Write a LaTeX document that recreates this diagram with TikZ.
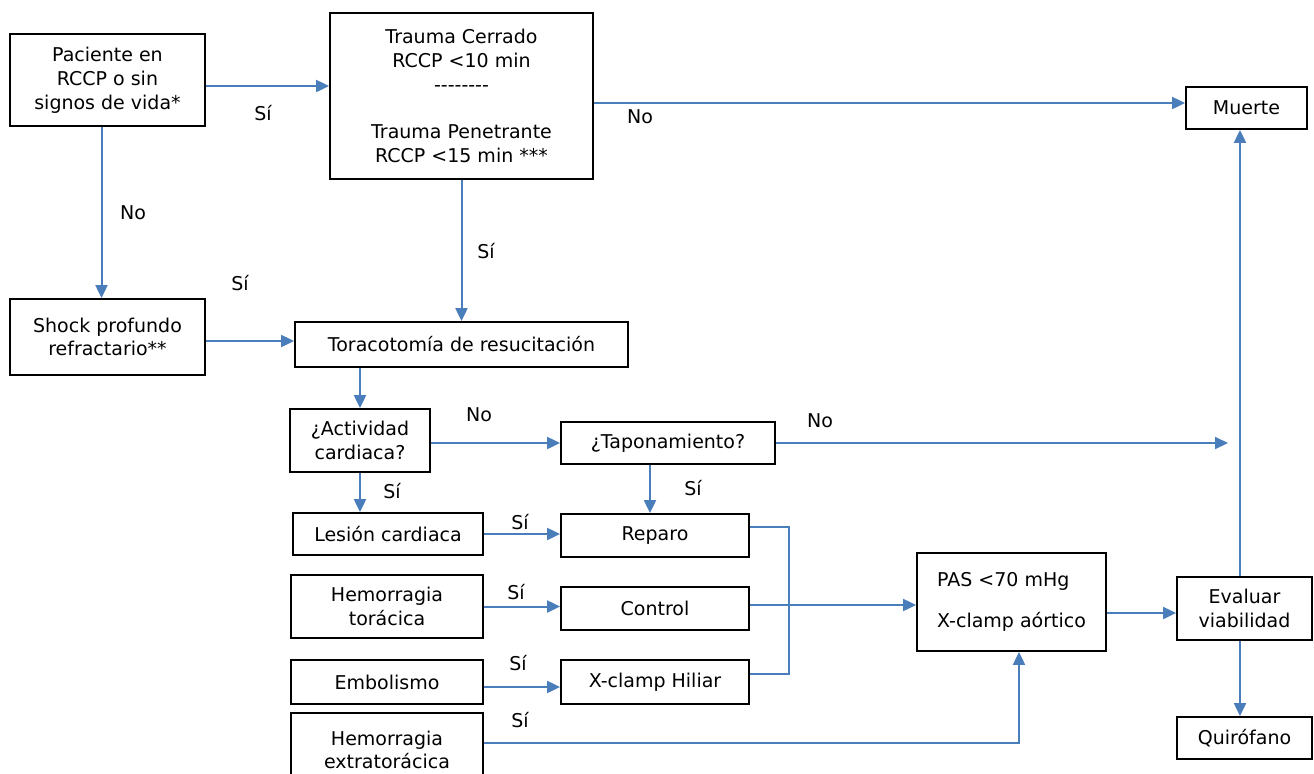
\documentclass[tikz,border=0pt]{standalone}
\usepackage{fontspec}
\setmainfont{DejaVu Sans}
\usetikzlibrary{arrows.meta}
\definecolor{linkblue}{HTML}{4A7EBB}
\newcommand{\dashrow}{-\kern0pt-\kern0pt-\kern0pt-\kern0pt-\kern0pt-\kern0pt-\kern0pt-}

\begin{document}
\begin{tikzpicture}[x=0.5pt, y=-0.5pt,
  font=\fontsize{9.5}{11.9}\selectfont,
  box/.style args={#1x#2}{draw, line width=0.9pt, rectangle, align=center,
    inner sep=0pt, minimum width=#1*0.5pt, minimum height=#2*0.5pt},
  link/.style={linkblue, line width=1pt},
  arr/.style={link, -{Triangle[length=6.5pt, width=6pt]}},
  lbl/.style={inner sep=0pt}]
  % \draw[help lines] (0,0) grid[step=100] (1314,773);
  \useasboundingbox (0,0) rectangle (1314,773);

  \node at (107.5, 80) [box=195x92] (pac) {Paciente en\\ RCCP o sin\\ signos de vida*};
  \node at (461.5, 96) [box=263x166] (trauma) {Trauma Cerrado\\ RCCP <10 min\\ \dashrow\\[11.9pt]
    Trauma Penetrante\\ RCCP <15 min ***};
  \node at (1246.5, 108) [box=121x42] (muerte) {Muerte};
  \node at (107.5, 337) [box=195x76] (shock) {Shock profundo\\ refractario**};
  \node at (461.5, 344.5) [box=333x45] (tora) {Toracotomía de resucitación};
  \node at (360, 440.5) [box=140x63] (activ) {¿Actividad\\ cardiaca?};
  \node at (668, 443) [box=214x42] (tapon) {¿Taponamiento?};
  \node at (388, 534) [box=190x42] (lesion) {Lesión cardiaca};
  \node at (655, 535.5) [box=188x43] (reparo) {Reparo};
  \node at (387, 606.5) [box=192x63] (hemtor) {Hemorragia\\ torácica};
  \node at (655, 608.5) [box=188x43] (control) {Control};
  \node at (387, 682) [box=192x44] (embol) {Embolismo};
  \node at (655, 682) [box=188x44] (xhil) {X-clamp Hiliar};
  \node at (387, 750) [box=192x74] (hemext) {Hemorragia\\ extratorácica};
  \node at (1011.5, 602) [box=189x98, align=left] (pas) {PAS <70 mHg\\[8.5pt] X-clamp aórtico};
  \node at (1244.5, 608.5) [box=135x63] (evaluar) {Evaluar\\ viabilidad};
  \node at (1244.5, 738) [box=135x42] (quir) {Quirófano};
  \coordinate (nofin) at (1228, 443);
  \coordinate (brk) at (789, 600);

  \node at (263, 113) [lbl] (si1) {Sí};
  \node at (640, 117) [lbl] (no1) {No};
  \node at (133, 213) [lbl] (no2) {No};
  \node at (486, 251) [lbl] (si2) {Sí};
  \node at (240, 283) [lbl] (si3) {Sí};
  \node at (479, 415) [lbl] (no3) {No};
  \node at (820, 421) [lbl] (no4) {No};
  \node at (392, 491) [lbl] (si4) {Sí};
  \node at (693, 488) [lbl] (si5) {Sí};
  \node at (520, 522) [lbl] (si6) {Sí};
  \node at (516, 592) [lbl] (si7) {Sí};
  \node at (518, 663) [lbl] (si8) {Sí};
  \node at (520, 720) [lbl] (si9) {Sí};

  \draw[arr] ([yshift=-3pt]pac.east) -- ([yshift=-3pt]pac.east -| trauma.west);
  \draw[arr] ([yshift=2.5pt]muerte.west -| trauma.east) -- ([yshift=2.5pt]muerte.west);
  \draw[arr] ([xshift=-3pt]pac.south) -- ([xshift=-3pt]pac.south |- shock.north);
  \draw[arr] (trauma.south) -- (tora.north);
  \draw[arr] ([yshift=-2pt]shock.east) -- ([yshift=-2pt]shock.east -| tora.west);
  \draw[arr] (tora.south -| activ.north) -- (activ.north);
  \draw[arr] (activ.east |- tapon.west) -- (tapon.west);
  \draw[arr] (tapon.east) -- (nofin);
  \draw[arr] (activ.south) -- (activ.south |- lesion.north);
  \draw[arr] ([xshift=-9pt]tapon.south) -- ([xshift=-9pt]tapon.south |- reparo.north);
  \draw[arr] (lesion.east) -- (lesion.east -| reparo.west);
  \draw[arr] (hemtor.east) -- (hemtor.east -| control.west);
  \draw[arr] ([yshift=-2.5pt]embol.east) -- ([yshift=-2.5pt]embol.east -| xhil.west);
  \draw[arr] ([yshift=3.5pt]hemext.east) -| ([xshift=3.75pt]pas.south);
  \draw[link] ([yshift=4.25pt]reparo.east) -| (brk) |- ([yshift=4pt]xhil.east);
  \draw[arr] ([yshift=1.75pt]control.east) -- ([yshift=1.75pt]control.east -| pas.west);
  \draw[arr] ([yshift=-5.5pt]pas.east) -- ([yshift=-5.5pt]pas.east -| evaluar.west);
  \draw[arr] ([xshift=-2.25pt]evaluar.north) -- ([xshift=-2.25pt]evaluar.north |- muerte.south);
  \draw[arr] ([xshift=-2.25pt]evaluar.south) -- ([xshift=-2.25pt]evaluar.south |- quir.north);
\end{tikzpicture}
\end{document}
